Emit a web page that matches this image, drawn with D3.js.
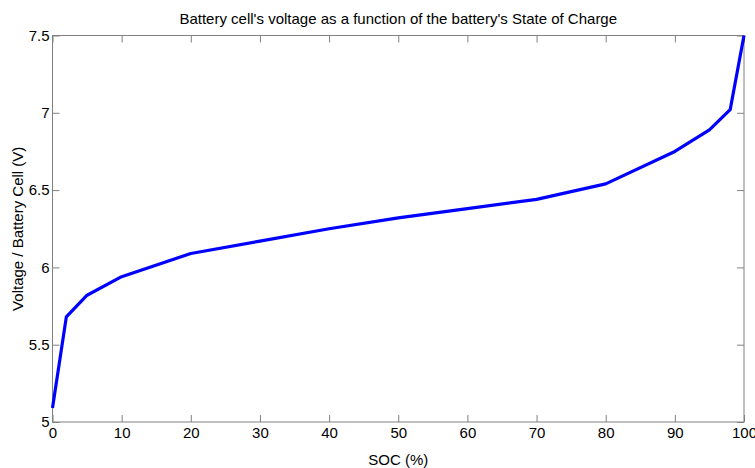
<!DOCTYPE html>
<html>
<head>
<meta charset="utf-8">
<script src="https://cdn.jsdelivr.net/npm/d3@7"></script>
<style>
  body { margin: 0; background: #fff; }
  svg { font-family: "Liberation Sans", Arial, sans-serif; }
</style>
</head>
<body>
<svg id="chart" width="755" height="468"></svg>
<script>
// data
const soc = [0, 2, 5, 10, 20, 30, 40, 50, 60, 70, 80, 90, 95, 98, 100];
const voltage = [5.09, 5.68, 5.82, 5.94, 6.09, 6.17, 6.25, 6.32, 6.38, 6.44, 6.54, 6.75, 6.89, 7.02, 7.5];
const xTicks = [0, 10, 20, 30, 40, 50, 60, 70, 80, 90, 100];
const yTicks = [5, 5.5, 6, 6.5, 7, 7.5];

const svg = d3.select("#chart");
const margin = { top: 35.5, right: 11, bottom: 46, left: 52.5 };
const width = +svg.attr("width") - margin.left - margin.right;
const height = +svg.attr("height") - margin.top - margin.bottom;

const g = svg.append("g").attr("transform", `translate(${margin.left},${margin.top})`);

const x = d3.scaleLinear().domain([0, 100]).range([0, width]);
const y = d3.scaleLinear().domain([5, 7.5]).range([height, 0]);

const axisColor = "#808080";
const tickLen = 7;
const fontSize = "15px";

// box
g.append("rect")
  .attr("width", width).attr("height", height)
  .attr("fill", "none").attr("stroke", axisColor).attr("stroke-width", 1);

function styleAxis(sel, showText) {
  sel.select(".domain").remove();
  sel.selectAll(".tick line").attr("stroke", axisColor);
  sel.selectAll(".tick text")
    .attr("fill", "#000").style("font-size", fontSize)
    .style("display", showText ? null : "none");
}

// bottom / top
g.append("g").attr("transform", `translate(0,${height})`)
  .call(d3.axisBottom(x).tickValues(xTicks).tickSizeInner(-tickLen).tickPadding(5).tickFormat(d3.format("d")))
  .call(s => styleAxis(s, true));
g.append("g")
  .call(d3.axisTop(x).tickValues(xTicks).tickSizeInner(-tickLen))
  .call(s => styleAxis(s, false));

// left / right
g.append("g")
  .call(d3.axisLeft(y).tickValues(yTicks).tickSizeInner(-tickLen).tickPadding(3).tickFormat(d => d))
  .call(s => styleAxis(s, true));
g.append("g").attr("transform", `translate(${width},0)`)
  .call(d3.axisRight(y).tickValues(yTicks).tickSizeInner(-tickLen))
  .call(s => styleAxis(s, false));

// line
const pts = soc.map((s, i) => [s, voltage[i]]);
g.append("path")
  .datum(pts)
  .attr("fill", "none")
  .attr("stroke", "#0000ff")
  .attr("stroke-width", 3.2)
  .attr("stroke-linejoin", "round")
  .attr("d", d3.line().x(d => x(d[0])).y(d => y(d[1])));

// labels
svg.append("text")
  .attr("x", margin.left + width / 2).attr("y", 24)
  .attr("text-anchor", "middle").style("font-size", fontSize)
  .text("Battery cell's voltage as a function of the battery's State of Charge");

svg.append("text")
  .attr("x", margin.left + width / 2).attr("y", 465)
  .attr("text-anchor", "middle").style("font-size", fontSize)
  .text("SOC (%)");

svg.append("text")
  .attr("transform", `translate(23,${margin.top + height / 2}) rotate(-90)`)
  .attr("text-anchor", "middle").style("font-size", fontSize)
  .text("Voltage / Battery Cell (V)");
</script>
</body>
</html>
